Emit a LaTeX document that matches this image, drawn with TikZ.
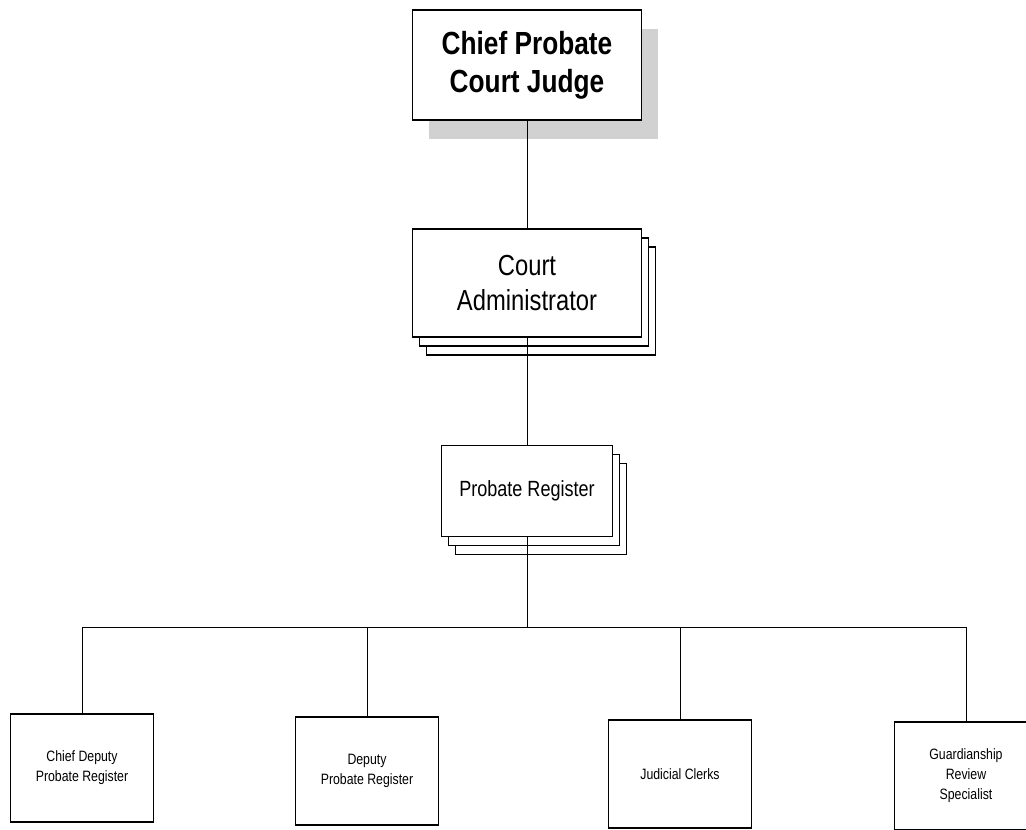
\documentclass[tikz,border=0pt]{standalone}
\usepackage{fontspec}
\setmainfont{Liberation Sans}[FakeStretch=0.82]
\usetikzlibrary{shadows}

\begin{document}
\begin{tikzpicture}[-,x=1pt,y=1pt,node distance=218pt,line width=1pt,
    main node/.style={rectangle,draw,fill=white,line width=1.6pt,inner sep=0pt,align=center},
    judge node/.style={main node,minimum width=229pt,minimum height=110pt,font=\fontsize{32}{38}\selectfont\bfseries,
        drop shadow={shadow xshift=16pt,shadow yshift=-19pt,fill=black!18,opacity=1}},
    stack node/.style={main node,
        copy shadow={shadow xshift=14pt,shadow yshift=-18pt,draw=black,fill=white},
        copy shadow={shadow xshift=7pt,shadow yshift=-9pt,draw=black,fill=white}},
    staff node/.style={main node,minimum width=143pt,minimum height=108pt,font=\fontsize{15}{20}\selectfont}]

                \useasboundingbox (0,0) rectangle (1026,-830);

                \node[judge node] (1) at (527,-65) {Chief Probate\\Court Judge};
                \node[stack node, minimum width=229pt, minimum height=108pt, font=\fontsize{29}{35}\selectfont] (2) [below of = 1]{Court\\Administrator};
                \node[stack node, minimum width=171pt, minimum height=91pt, font=\fontsize{22}{26}\selectfont, node distance=208pt] (3) [below of = 2]{Probate Register};
                \node[staff node, node distance=277pt] (4) [below of = 3, xshift=-445pt]{Chief Deputy\\Probate Register};
                \node[staff node, node distance=280pt] (5) [below of = 3, xshift=-160pt]{Deputy\\Probate Register};
                \node[staff node, node distance=283pt] (6) [below of = 3, xshift=153pt]{Judicial Clerks};
                \node[staff node, node distance=285pt] (7) [below of = 3, xshift=439pt]{Guardianship\\Review\\Specialist};

                \coordinate (bus) at (0,-627);

                \draw[-] (1) to (2);
                \draw[-] (2) to (3);
                \draw[-] (3.south) to (3.south |- bus);
                \draw[-] (4.north) |- (7.north |- bus) -- (7.north);
                \foreach \n in {5,6}
                    \draw[-] (\n.north) to (\n.north |- bus);

                ;
            \end{tikzpicture}
\end{document}
